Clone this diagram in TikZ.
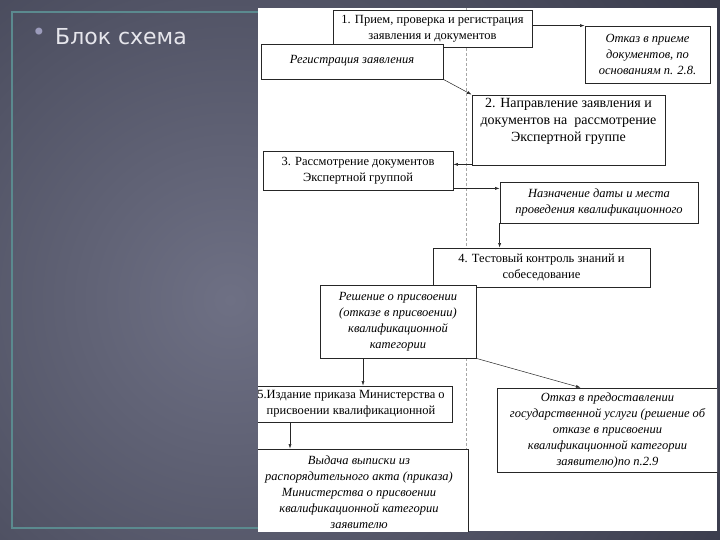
\documentclass[tikz,border=0pt]{standalone}
\usepackage{fontspec}
\setmainfont{Liberation Serif}
\newfontfamily\slidefont{DejaVu Sans}
\usetikzlibrary{arrows.meta}
\definecolor{slidein}{HTML}{6E7084}
\definecolor{slideout}{HTML}{363848}
\definecolor{frameteal}{HTML}{5B8A8F}
\definecolor{titlegray}{HTML}{E6E6EC}
\definecolor{bulletgray}{HTML}{9C9CBC}
\begin{document}
\begin{tikzpicture}[x=1pt, y=-1pt,
    box/.style={draw=black!85, line width=0.8pt, fill=white, align=center, inner sep=2pt,
        font=\fontsize{12.5}{16}\selectfont},
    ibox/.style={box, font=\fontsize{12.5}{16}\selectfont\itshape},
    arr/.style={-{Latex[length=4.5pt,width=3pt]}, draw=black!85, line width=0.5pt},
    fold/.style={draw=black!35, densely dashed, line width=0.4pt}]
    \useasboundingbox (0,0) rectangle (720,540);
    \begin{scope}
        \clip (0,0) rectangle (720,540);
        \shade[inner color=slidein, outer color=slideout] (230,300) circle (600);
    \end{scope}
    \draw[frameteal, line width=1.6pt] (12,12) rectangle (716,528);
    \node[font=\slidefont\fontsize{24}{24}\selectfont, text=bulletgray] (blt) at (39,34) {•};
    \node[font=\slidefont\fontsize{22}{22}\selectfont, text=titlegray, anchor=base west, inner sep=0pt] (ttl) at (55,45) {Блок схема};

    \begin{scope}
        \clip (258,8) rectangle (717,531);
        \fill[white] (258,8) rectangle (717,531);
        \draw[fold] (466,8) -- (466,531);

        \node[box, minimum width=199pt, minimum height=37pt] (priem) at (432.5,28.5) {1. Прием, проверка и регистрация\\заявления и документов};
        \node[ibox, minimum width=125pt, minimum height=57pt] (otkaz) at (647.5,54.5) {Отказ в приеме\\документов, по\\основаниям п. 2.8.};
        \node[ibox, minimum width=182pt, minimum height=35pt] (reg) at (352,61.5) {\raisebox{5pt}{Регистрация заявления}};
        \node[box, minimum width=193pt, minimum height=70pt, font=\fontsize{14}{17}\selectfont] (napr) at (568.5,130) {2. Направление заявления и\\документов на\ \ рассмотрение\\Экспертной группе\\[4pt]};
        \node[box, minimum width=190pt, minimum height=39pt] (rass) at (358,170.5) {3. Рассмотрение документов\\Экспертной группой};
        \node[ibox, minimum width=198pt, minimum height=41pt] (nazn) at (599,202.5) {Назначение даты и места\\проведения квалификационного};
        \node[box, minimum width=217pt, minimum height=39pt] (test) at (541.5,267.5) {4. Тестовый контроль знаний и\\собеседование};
        \node[ibox, minimum width=156pt, minimum height=73pt] (resh) at (398,321.5) {Решение о присвоении\\(отказе в присвоении)\\квалификационной\\категории};
        \node[box, minimum width=202pt, minimum height=36pt] (izd) at (351,404) {5.Издание приказа Министерства о\\присвоении квалификационной};
        \node[ibox, minimum width=221pt, minimum height=84pt] (otkazgos) at (607.5,430) {Отказ в предоставлении\\государственной услуги (решение об\\отказе в присвоении\\квалификационной категории\\заявителю)по п.2.9};
        \node[ibox, minimum width=218pt, minimum height=86pt] (vyd) at (359,492) {Выдача выписки из\\распорядительного акта (приказа)\\Министерства о присвоении\\квалификационной категории\\заявителю};

        \coordinate (c1) at ([yshift=1pt]napr.south west);
        \coordinate (c2) at ([yshift=2pt]rass.south east);
        \coordinate (c3) at ([xshift=-35pt]resh.south);
        \coordinate (c4) at ([xshift=-61pt]izd.south);
        \coordinate (c5) at ([xshift=-27pt]otkazgos.north);

        \draw[arr] (priem.east |- otkaz.north west) -- (otkaz.north west);
        \draw[arr] (reg.south east) -- (napr.north west);
        \draw[arr] (c1) -- (rass.east |- c1);
        \draw[arr] (c2) -- (nazn.west |- c2);
        \draw[arr] (nazn.south west) -- (test.north -| nazn.south west);
        \draw[arr] (c3) -- (izd.north -| c3);
        \draw[arr] (resh.south east) -- (c5);
        \draw[arr] (c4) -- (vyd.north -| c4);
    \end{scope}
\end{tikzpicture}
\end{document}
